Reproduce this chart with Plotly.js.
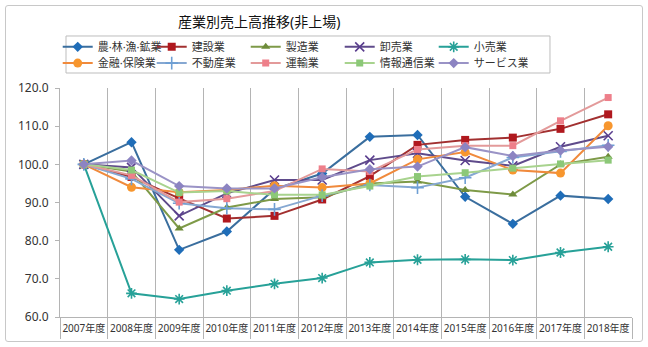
<!DOCTYPE html>
<html>
<head>
<meta charset="utf-8">
<script src="https://cdn.plot.ly/plotly-3.0.1.min.js"></script>
<style>
  html, body { margin: 0; padding: 0; background: #fff; }
  #wrap { position: relative; width: 648px; height: 347px; }
  #chart { width: 648px; height: 347px; }
  #frame { position: absolute; left: 5px; top: 5px; width: 636px; height: 335px;
           border: 1px solid #c8c8c8; border-radius: 3px; pointer-events: none; }
</style>
</head>
<body>
<div id="wrap"><div id="chart"></div><div id="frame"></div></div>
<script>
const years = ["2007年度","2008年度","2009年度","2010年度","2011年度","2012年度","2013年度","2014年度","2015年度","2016年度","2017年度","2018年度"];
const yTicks = [60, 70, 80, 90, 100, 110, 120];

const agri      = [100, 105.8, 77.6, 82.4, 93.5, 97.6, 107.2, 107.7, 91.5, 84.4, 91.8, 90.9];
const constr    = [100, 96.7, 91.1, 85.8, 86.5, 90.8, 96.9, 105.1, 106.4, 107.0, 109.3, 113.1];
const manuf     = [100, 98.1, 83.2, 88.7, 90.9, 91.4, 95.0, 95.5, 93.3, 92.1, 100.0, 102.0];
const wholesale = [100, 99.2, 86.5, 92.4, 95.9, 95.9, 101.1, 102.9, 101.0, 99.6, 104.6, 107.5];
const retail    = [100, 66.2, 64.7, 66.9, 68.7, 70.2, 74.3, 75.0, 75.1, 74.9, 76.9, 78.4];
const finance   = [100, 94.0, 92.7, 93.3, 94.4, 93.9, 95.0, 101.3, 103.2, 98.5, 97.7, 110.1];
const realty    = [100, 96.2, 89.8, 88.5, 88.2, 91.8, 94.6, 93.9, 96.5, 101.8, 103.4, 105.0];
const transport = [100, 97.1, 90.1, 91.0, 93.0, 98.8, 98.1, 103.9, 104.9, 104.9, 111.4, 117.5];
const infocom   = [100, 98.5, 92.6, 93.0, 92.0, 92.0, 94.3, 96.8, 97.8, 99.0, 100.1, 101.1];
const services  = [100, 101.0, 94.3, 93.7, 93.7, 96.6, 98.7, 99.4, 104.5, 102.2, 103.6, 104.6];

const names = ["農·林·漁·鉱業","建設業","製造業","卸売業","小売業","金融·保険業","不動産業","運輸業","情報通信業","サービス業他"];

function tr(name, y, lineColor, markColor, symbol, size, legend, thin) {
  const m = { symbol: symbol, size: size, color: markColor };
  if (thin) m.line = { color: markColor, width: 1.6 };
  return { type: "scatter", mode: "lines+markers", name: name, x: years, y: y,
           line: { color: lineColor, width: 2 }, marker: m, legend: legend };
}

const data = [
  tr(names[0], agri,      "#3A6E9E", "#1F6DB8", "diamond", 8, "legend"),
  tr(names[1], constr,    "#A23030", "#B0181E", "square", 8, "legend"),
  tr(names[2], manuf,     "#7E9A48", "#6E8C3A", "triangle-up", 8, "legend"),
  tr(names[3], wholesale, "#5F4B8B", "#5A3E8E", "x-thin-open", 9, "legend", true),
  tr(names[4], retail,    "#27A198", "#27A198", "asterisk-open", 9, "legend", true),
  tr(names[5], finance,   "#F08A3C", "#F7962E", "circle", 9, "legend2"),
  tr(names[6], realty,    "#86A8D2", "#6E9FD4", "cross-thin-open", 9, "legend2", true),
  tr(names[7], transport, "#E39A9A", "#EE7F8A", "square", 7, "legend2"),
  tr(names[8], infocom,   "#A8D38E", "#8CC878", "square", 7, "legend2"),
  tr(names[9], services,  "#9A93C6", "#8C84C2", "diamond", 8, "legend2")
];

const font = "'Noto Sans', 'Noto Sans CJK JP', sans-serif";
const legendBase = {
  orientation: "h", xanchor: "left", yanchor: "top",
  entrywidth: 49, entrywidthmode: "pixels",
  font: { family: font, size: 11, color: "#333" },
  bgcolor: "rgba(0,0,0,0)", borderwidth: 0, itemclick: false
};

const layout = {
  width: 648, height: 347,
  margin: { l: 60, r: 16, t: 88, b: 30 },
  paper_bgcolor: "#fff", plot_bgcolor: "#fff",
  font: { family: font, color: "#333" },
  title: { text: "産業別売上高推移(非上場)", font: { family: font, size: 14, color: "#111" },
           x: 0.4, xanchor: "center", xref: "container", y: 0.935, yanchor: "middle", yref: "container" },
  showlegend: true,
  legend: Object.assign({}, legendBase, { x: -0.004, y: 1.243 }),
  legend2: Object.assign({}, legendBase, { x: -0.004, y: 1.172 }),
  xaxis: {
    type: "category", tickson: "boundaries", range: [-0.5, 11.5],
    showgrid: true, gridcolor: "#b4b4b4", gridwidth: 1,
    showline: true, linecolor: "#b4b4b4", linewidth: 1,
    ticks: "outside", ticklen: 21, tickcolor: "#b4b4b4", tickwidth: 1,
    tickangle: 0, ticklabelstandoff: 2,
    tickfont: { family: font, size: 10, color: "#333" }
  },
  yaxis: {
    range: [60, 120], tickvals: yTicks, tickformat: ".1f",
    showgrid: false, zeroline: false,
    showline: true, linecolor: "#b4b4b4", linewidth: 1,
    ticks: "outside", ticklen: 4, tickcolor: "#b4b4b4",
    ticklabelstandoff: 4,
    tickfont: { family: font, size: 12, color: "#333" }
  },
  shapes: [{
    type: "rect", xref: "paper", yref: "paper",
    x0: 0.0105, x1: 0.8566, y0: 1.0655, y1: 1.2271,
    line: { color: "#bdbdbd", width: 1 }, fillcolor: "rgba(0,0,0,0)"
  }]
};

Plotly.newPlot("chart", data, layout, { staticPlot: true, displayModeBar: false });
</script>
</body>
</html>
